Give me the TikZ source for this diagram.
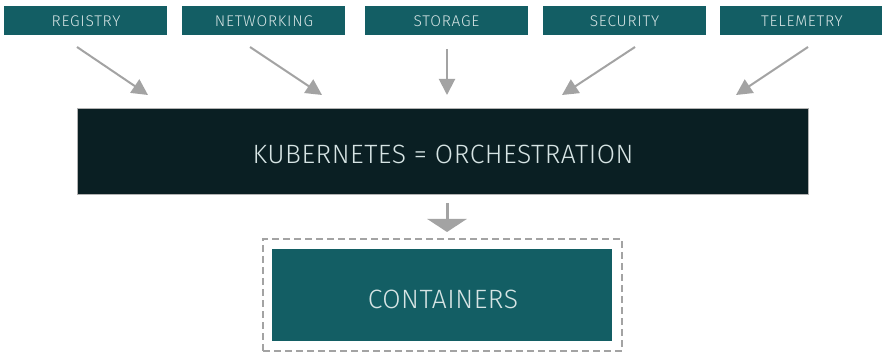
\documentclass[tikz,border=0pt]{standalone}
\usepackage{fontspec}
\setmainfont{Fira Sans Light}
\usetikzlibrary{arrows.meta}
\definecolor{teal1}{HTML}{135E64}
\definecolor{dark1}{HTML}{0A1F23}
\definecolor{txt}{HTML}{D6E4E4}
\definecolor{arr}{HTML}{A3A3A3}
\begin{document}
\begin{tikzpicture}[x=1pt,y=-1pt,
  topbox/.style={fill=teal1,minimum width=163pt,minimum height=29pt,inner sep=0pt},
  toptext/.style={text=txt,inner sep=0pt,font=\fontsize{15.5}{17}\selectfont\addfontfeatures{LetterSpace=5}},
  bigtext/.style={text=txt,inner sep=0pt,font=\fontsize{26.5}{30}\selectfont\addfontfeatures{LetterSpace=2}},
  arrline/.style={draw=arr,line width=2pt,-{Triangle[length=16pt,width=16pt]}},
  bigarr/.style={draw=arr,line width=3pt,-{Triangle[length=13pt,width=39pt]}}]
\useasboundingbox (0,0) rectangle (882,352);
\node[topbox] (reg) at (85.5,20.5) {};
\node[topbox] (net) at (263.5,20.5) {};
\node[topbox] (sto) at (446,20.5) {};
\node[topbox] (sec) at (624,20.5) {};
\node[topbox] (tel) at (801.5,20.5) {};
\node[toptext] (regt) at (86,21) {REGISTRY};
\node[toptext] (nett) at (264,21) {NETWORKING};
\node[toptext] (stot) at (446.5,21) {STORAGE};
\node[toptext] (sect) at (624.5,21) {SECURITY};
\node[toptext] (telt) at (802,21) {TELEMETRY};
\node[fill=dark1,draw=gray!60,line width=0.6pt,minimum width=731pt,minimum height=86pt,inner sep=0pt] (kub) at (442.5,151) {};
\node[bigtext] (kubt) at (443,154) {KUBERNETES = ORCHESTRATION};
\node[draw=arr,dashed,dash pattern=on 7pt off 4pt,line width=1.5pt,minimum width=359pt,minimum height=112pt,inner sep=0pt] (dash) at (442.5,295) {};
\node[fill=teal1,minimum width=340pt,minimum height=92pt,inner sep=0pt] (cont) at (442,295) {};
\node[bigtext] (contt) at (443,299) {CONTAINERS};
\coordinate (a1s) at (77,47); \coordinate (a1e) at (148,95);
\coordinate (a2s) at (250,47); \coordinate (a2e) at (322,95);
\coordinate (a3s) at (447,49); \coordinate (a3e) at (447,95);
\coordinate (a4s) at (635,47); \coordinate (a4e) at (562,95);
\coordinate (a5s) at (808,47); \coordinate (a5e) at (736,95);
\coordinate (bs) at (447,203); \coordinate (be) at (447,232);
\draw[arrline] (a1s) -- (a1e);
\draw[arrline] (a2s) -- (a2e);
\draw[arrline] (a3s) -- (a3e);
\draw[arrline] (a4s) -- (a4e);
\draw[arrline] (a5s) -- (a5e);
\draw[bigarr] (bs) -- (be);
\end{tikzpicture}
\end{document}
